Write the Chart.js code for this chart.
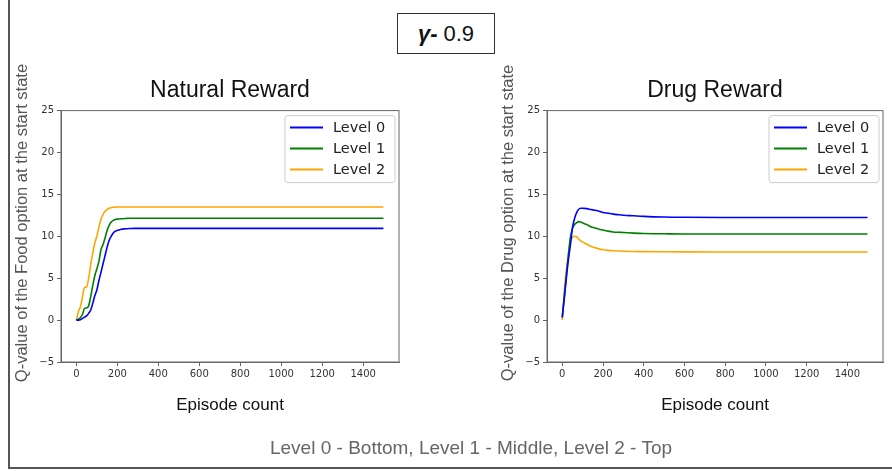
<!DOCTYPE html>
<html>
<head>
<meta charset="utf-8">
<script src="https://cdn.jsdelivr.net/npm/chart.js@4.4.1/dist/chart.umd.min.js"></script>
<style>
  html, body { margin: 0; padding: 0; background: #fff; }
  body { width: 892px; height: 471px; position: relative; overflow: hidden; font-family: 'Liberation Sans', Arial, sans-serif; }
  .panel { position: absolute; top: 0; width: 446px; height: 471px; }
  #frameLeft { position: absolute; left: 8px; top: 0; width: 2px; height: 469px; background: #555; }
  #frameBottom { position: absolute; left: 8px; top: 467px; width: 884px; height: 2px; background: #555; }
  #gamma { position: absolute; left: 397px; top: 13px; width: 98px; height: 41px; box-sizing: border-box;
           border: 1px solid #333; display: flex; align-items: center; justify-content: center;
           font-size: 22px; color: #111; }
  #gamma b { font-style: italic; margin-right: 6px; }
  #caption { position: absolute; left: 49px; width: 844px; top: 437px; text-align: center;
             font-size: 19px; color: #666; }
</style>
</head>
<body>
<div id="frameLeft"></div>
<div id="frameBottom"></div>
<div id="gamma"><b>γ-</b>0.9</div>
<div class="panel" style="left:0"><canvas id="naturalChart"></canvas></div>
<div class="panel" style="left:446px"><canvas id="drugChart"></canvas></div>
<div id="caption">Level 0 - Bottom, Level 1 - Middle, Level 2 - Top</div>
<script>
// ---- data ----
const levelLabels = ['Level 0', 'Level 1', 'Level 2'];
const levelColors = ['#0000ff', '#008000', '#ffa500'];

const natEpisodes = [0, 10, 20, 30, 40, 50, 60, 70, 80, 90, 100, 110, 120, 130, 140, 150, 160, 170, 180, 190, 200, 220, 240, 260, 280, 300, 400, 600, 800, 1000, 1200, 1499];
const natLevel0 = [0, 0.0, 0.05, 0.2, 0.35, 0.5, 0.8, 1.2, 2.0, 2.9, 3.6, 4.7, 5.7, 6.7, 7.7, 8.7, 9.5, 10.0, 10.4, 10.6, 10.7, 10.85, 10.9, 10.93, 10.95, 10.95, 10.95, 10.95, 10.95, 10.95, 10.95, 10.95];
const natLevel1 = [0, 0.1, 0.3, 0.7, 1.4, 1.45, 1.7, 2.8, 4.1, 5.3, 6.1, 7.0, 8.4, 9.0, 9.8, 10.7, 11.3, 11.7, 11.9, 12.0, 12.05, 12.1, 12.13, 12.15, 12.15, 12.15, 12.15, 12.15, 12.15, 12.15, 12.15, 12.15];
const natLevel2 = [0, 1.0, 1.6, 2.8, 3.9, 3.95, 5.0, 6.6, 8.0, 9.2, 10.0, 11.1, 12.0, 12.6, 13.0, 13.2, 13.35, 13.42, 13.46, 13.48, 13.5, 13.5, 13.5, 13.5, 13.5, 13.5, 13.5, 13.5, 13.5, 13.5, 13.5, 13.5];

const drugEpisodes = [0, 10, 20, 30, 40, 50, 60, 70, 80, 90, 100, 120, 140, 160, 180, 200, 225, 250, 275, 300, 350, 400, 500, 600, 800, 1000, 1200, 1499];
const drugLevel0 = [0.3, 2.6, 5.0, 7.2, 9.0, 11.0, 12.1, 12.8, 13.2, 13.35, 13.35, 13.3, 13.2, 13.1, 13.0, 12.85, 12.75, 12.65, 12.58, 12.52, 12.45, 12.38, 12.3, 12.27, 12.25, 12.25, 12.25, 12.25];
const drugLevel1 = [0.4, 2.8, 5.4, 7.8, 9.9, 10.9, 11.4, 11.6, 11.75, 11.7, 11.6, 11.4, 11.15, 11.0, 10.85, 10.75, 10.62, 10.52, 10.48, 10.45, 10.38, 10.33, 10.3, 10.28, 10.28, 10.28, 10.28, 10.28];
const drugLevel2 = [0, 3.5, 5.9, 7.8, 9.3, 9.9, 10.0, 9.95, 9.7, 9.45, 9.3, 9.05, 8.8, 8.65, 8.5, 8.4, 8.32, 8.27, 8.24, 8.22, 8.19, 8.17, 8.15, 8.14, 8.13, 8.13, 8.13, 8.13];

const xMin = -75, xMax = 1575, xStep = 200;
const yMin = -5, yMax = 25, yStep = 5;

// box spines, inside legend and the y label
const framePlugin = {
    id: 'frame',
    afterDraw(chart, args, opts) {
        const ctx = chart.ctx;
        const a = chart.chartArea;
        ctx.save();
        ctx.strokeStyle = '#666';
        ctx.lineWidth = 1;
        ctx.strokeRect(a.left, a.top, a.width, a.height);

        // legend
        const bw = 110, bh = 67;
        const bx = a.right - 4 - bw, by = a.top + 5;
        ctx.beginPath();
        ctx.roundRect(bx, by, bw, bh, 3);
        ctx.fillStyle = 'rgba(255,255,255,0.8)';
        ctx.fill();
        ctx.strokeStyle = '#cccccc';
        ctx.stroke();
        ctx.font = '14.5px "DejaVu Sans"';
        ctx.textBaseline = 'middle';
        chart.data.datasets.forEach((ds, i) => {
            const ly = by + 12 + i * 21;
            ctx.strokeStyle = ds.borderColor;
            ctx.lineWidth = 2;
            ctx.beginPath();
            ctx.moveTo(bx + 5, ly);
            ctx.lineTo(bx + 38, ly);
            ctx.stroke();
            ctx.fillStyle = '#222';
            ctx.fillText(ds.label, bx + 48, ly + 1);
        });

        // y axis label
        ctx.translate(opts.labelX, opts.labelY);
        ctx.rotate(-Math.PI / 2);
        ctx.font = '16.5px "Liberation Sans"';
        ctx.fillStyle = '#555';
        ctx.textAlign = 'center';
        ctx.textBaseline = 'middle';
        ctx.fillText(opts.yLabel, 0, 0);
        ctx.restore();
    }
};

function makeChart(id, title, yLabel, episodes, series, padLeft, padRight, labelX) {
    const tickFont = { family: 'DejaVu Sans', size: 10 };
    new Chart(document.getElementById(id), {
        type: 'line',
        data: {
            datasets: series.map((vals, i) => ({
                label: levelLabels[i],
                data: episodes.map((x, j) => ({ x: x, y: vals[j] })),
                borderColor: levelColors[i],
                backgroundColor: levelColors[i],
                borderWidth: 1.6,
                pointRadius: 0,
                cubicInterpolationMode: 'monotone',
                fill: false
            }))
        },
        options: {
            responsive: true,
            maintainAspectRatio: false,
            animation: false,
            layout: { padding: { left: padLeft, right: padRight, top: 77, bottom: 52 } },
            plugins: {
                legend: { display: false },
                tooltip: { enabled: false },
                title: {
                    display: true,
                    text: title,
                    fullSize: false,
                    color: '#111',
                    font: { family: 'Liberation Sans', size: 23, weight: 'normal' },
                    padding: { top: 0, bottom: 6 }
                },
                frame: { yLabel: yLabel, labelX: labelX, labelY: 223 }
            },
            scales: {
                x: {
                    type: 'linear',
                    min: xMin,
                    max: xMax,
                    ticks: {
                        stepSize: xStep, includeBounds: false, font: tickFont, color: '#333', padding: 2, maxRotation: 0,
                        callback: v => String(v)
                    },
                    grid: { drawOnChartArea: false, tickLength: 4, color: '#666' },
                    border: { color: '#666' },
                    title: {
                        display: true,
                        text: 'Episode count',
                        color: '#111',
                        font: { family: 'Liberation Sans', size: 17 },
                        padding: { top: 0, bottom: 3 }
                    },
                    afterFit: s => { s.height = 57; }
                },
                y: {
                    min: yMin,
                    max: yMax,
                    ticks: {
                        stepSize: yStep, font: tickFont, color: '#333', padding: 3,
                        callback: v => (v < 0 ? '\u2212' + Math.abs(v) : String(v))
                    },
                    grid: { drawOnChartArea: false, tickLength: 4, color: '#666' },
                    border: { color: '#666' },
                    afterFit: s => { s.width = 53; }
                }
            }
        },
        plugins: [framePlugin]
    });
}

makeChart('naturalChart', 'Natural Reward', 'Q-value of the Food option at the start state',
    natEpisodes, [natLevel0, natLevel1, natLevel2], 8, 47, 22);
makeChart('drugChart', 'Drug Reward', 'Q-value of the Drug option at the start state',
    drugEpisodes, [drugLevel0, drugLevel1, drugLevel2], 48, 9, 62);
</script>
</body>
</html>
